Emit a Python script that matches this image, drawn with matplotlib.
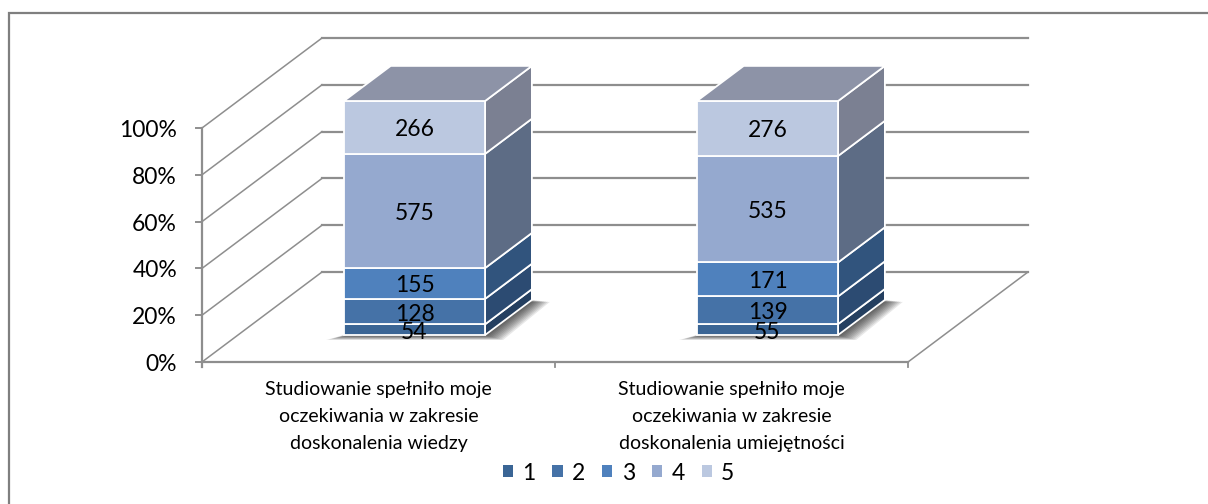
#!/usr/bin/env python
# fake 3D stacked 100% columns, drawn with an oblique projection
import numpy as np
import matplotlib
matplotlib.use("Agg")
import matplotlib.pyplot as plt
from matplotlib.patches import Polygon, Patch

plt.rcParams['font.family'] = ['Lato', 'DejaVu Sans']

categories = ["Studiowanie spełniło moje\noczekiwania w zakresie\ndoskonalenia wiedzy",
              "Studiowanie spełniło moje\noczekiwania w zakresie\ndoskonalenia umiejętności"]
series_names = ["1", "2", "3", "4", "5"]
wiedzy = [54, 128, 155, 575, 266]
umiejetnosci = [55, 139, 171, 535, 276]
y_ticks = [0, 20, 40, 60, 80, 100]

front_colors = ["#3A6595", "#4572A7", "#4F81BD", "#95A9CF", "#BBC8E0"]
side_colors = ["#243F60", "#2C4B72", "#31547D", "#5D6C85", "#7B8092"]
top_color = "#8D93A7"
grid_color = "#8E8E8E"

# projection: category position, percent, depth -> pixel
X0, Y0 = 202, 362
X_UNIT, Y_UNIT = 353, 2.34
DX, DY = 120, 90


def proj(x, v, d):
    return (X0 + X_UNIT * x + DX * d, Y0 - Y_UNIT * v - DY * d)


fig = plt.figure(figsize=(12.08, 5.04), dpi=100)
ax = fig.add_axes([0, 0, 1, 1])
ax.set_xlim(0, 1208)
ax.set_ylim(504, 0)
ax.axis("off")

# outer frame, only top and left are in the picture
ax.plot([1208, 8.5, 8.5], [13, 13, 504], color="#7F7F7F", lw=1.6, solid_joinstyle="miter")

# walls and floor
for v in y_ticks:
    ax.plot(*zip(proj(0, v, 0), proj(0, v, 1)), color=grid_color, lw=1.1, zorder=1)
    ax.plot(*zip(proj(0, v, 1), proj(2, v, 1)), color=grid_color, lw=1.6, zorder=1)
    ax.plot(*zip(proj(0, v, 0), (X0 - 6, proj(0, v, 0)[1])), color=grid_color, lw=1.4, zorder=1)
    ax.text(X0 - 25, proj(0, v, 0)[1] + 2.5, "%d%%" % v, ha="right", va="center", fontsize=16.5, color="black")
ax.plot(*zip(proj(2, 0, 1), proj(2, 0, 0)), color=grid_color, lw=1.1, zorder=1)
ax.plot(*zip(proj(2, 0, 0), proj(0, 0, 0)), color=grid_color, lw=1.6, zorder=1)
ax.plot(*zip(proj(0, 100, 0), (X0, Y0 + 5)), color=grid_color, lw=1.6, zorder=1)
for x in [0, 1, 2]:
    ax.plot(*zip(proj(x, 0, 0), (proj(x, 0, 0)[0], Y0 + 5)), color=grid_color, lw=1.3, zorder=1)

# columns
bar_w = 0.40
d0, d1 = 0.30, 0.69
for i, vals in enumerate([wiedzy, umiejetnosci]):
    vals = np.array(vals, dtype=float)
    pct = vals / vals.sum() * 100
    bottoms = np.concatenate([[0], np.cumsum(pct)[:-1]])
    xl = i + 0.5 - bar_w / 2
    xr = i + 0.5 + bar_w / 2

    # soft shadow on the floor
    for k in range(10, 0, -1):
        pad = k * 1.8
        x_a, y_a = proj(xl, 0, d0)
        x_b, y_b = proj(xr, 0, d0)
        x_c, y_c = proj(xr, 0, d1)
        shadow = [(x_a - pad, y_a + k * 0.5), (x_b + pad, y_b + k * 0.5),
                  (x_c + pad, y_c + k * 0.2), (x_c - 20, y_c + k * 0.2)]
        ax.add_patch(Polygon(shadow, closed=True, fc="black", ec="none", alpha=0.09, zorder=2))

    for j in range(len(vals)):
        b, t = bottoms[j], bottoms[j] + pct[j]
        side = [proj(xr, b, d0), proj(xr, t, d0), proj(xr, t, d1), proj(xr, b, d1)]
        ax.add_patch(Polygon(side, closed=True, fc=side_colors[j], ec="white", lw=1.3, zorder=3))
        front = [proj(xl, b, d0), proj(xr, b, d0), proj(xr, t, d0), proj(xl, t, d0)]
        ax.add_patch(Polygon(front, closed=True, fc=front_colors[j], ec="white", lw=1.3, zorder=3))
        cx, cy = proj(i + 0.5, (b + t) / 2, d0)
        ax.text(cx, cy + 2.5, "%d" % vals[j], ha="center", va="center", fontsize=16.5, color="black", zorder=5)
    top = [proj(xl, 100, d0), proj(xr, 100, d0), proj(xr, 100, d1), proj(xl, 100, d1)]
    ax.add_patch(Polygon(top, closed=True, fc=top_color, ec="white", lw=1.3, zorder=3))

    ax.text(proj(i + 0.5, 0, 0)[0], Y0 + 19, categories[i], ha="center", va="top",
            fontsize=14, linespacing=1.72, color="black")

handles = [Patch(fc=c, ec="none", label=n) for c, n in zip(front_colors, series_names)]
ax.legend(handles=handles, ncol=5, frameon=False, loc="center", bbox_to_anchor=(0.512, 0.0615),
          fontsize=16.5, handlelength=0.45, handleheight=0.45, handletextpad=0.4, columnspacing=0.74)

fig.savefig("out.png", dpi=100)
